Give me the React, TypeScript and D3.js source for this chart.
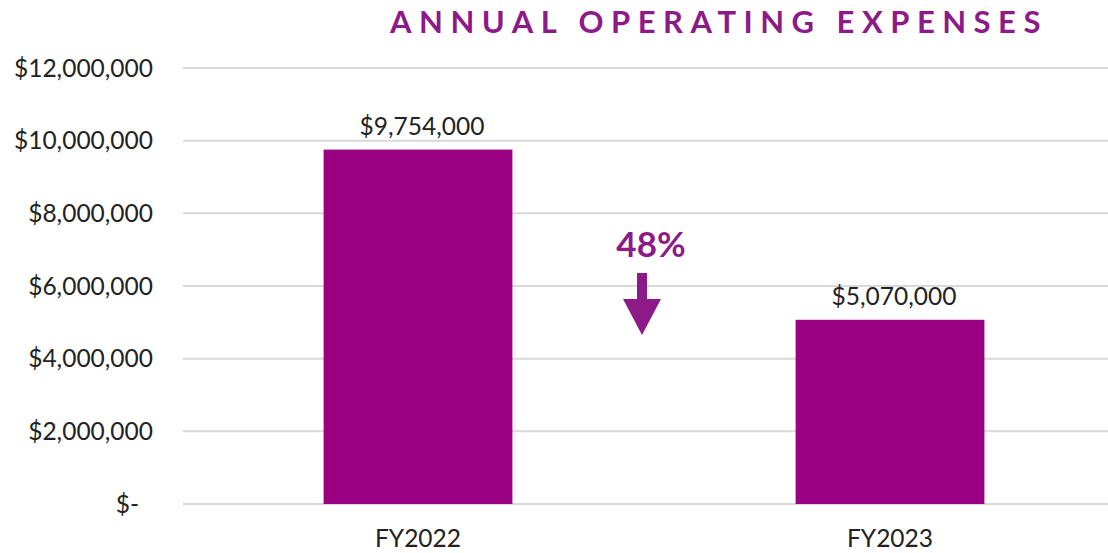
import React from "react";
import * as d3 from "d3";

const categories = ["FY2022", "FY2023"];
const values = [9754000, 5070000];
const yTicks = [0, 2000000, 4000000, 6000000, 8000000, 10000000, 12000000];
const title = "ANNUAL OPERATING EXPENSES";
const changeLabel = "48%";

const W = 1108;
const H = 553;
const FONT = "Lato, 'Open Sans', sans-serif";
const BAR = "#990082";
const PURPLE = "#8c1a88";

export default function App() {
  const x = d3.scaleBand<string>().domain(categories).range([182, 1126]).paddingInner(0.6).paddingOuter(0.3);
  const y = d3.scaleLinear().domain([0, 12000000]).range([504, 68]);
  const fmt = d3.format("$,.0f");
  const tickFmt = (v: number) => (v === 0 ? "$-" : fmt(v));
  const midX = ((x(categories[0])! + x.bandwidth()) + x(categories[1])!) / 2;
  const ax = midX - 12;
  const arrowTop = 273, headTop = 299, tip = 335;
  const arrow = `M${ax - 5},${arrowTop} L${ax + 5},${arrowTop} L${ax + 5},${headTop} L${ax + 19},${headTop} L${ax},${tip} L${ax - 19},${headTop} L${ax - 5},${headTop} Z`;
  return (
    <svg width={W} height={H} style={{ position: "absolute", left: 0, top: 0, background: "#fff" }}>
      <text x={719} y={33} textAnchor="middle" fill={PURPLE} fontFamily={FONT} fontWeight={700} fontSize={31} letterSpacing={7.5}>
        {title}
      </text>
      {yTicks.map((t) => (
        <g key={t}>
          <line x1={183} x2={1108} y1={y(t)} y2={y(t)} stroke="#d9d9d9" strokeWidth={2} />
          <text x={t === 0 ? 139 : 153} y={y(t)} dy="0.35em" textAnchor="end" fontFamily={FONT} fontSize={24.5} fill="#222">
            {tickFmt(t)}
          </text>
        </g>
      ))}
      {categories.map((c, i) => (
        <g key={c}>
          <rect x={x(c)!} y={y(values[i])} width={x.bandwidth()} height={y(0) - y(values[i])} fill={BAR} />
          <text x={x(c)! + x.bandwidth() / 2 + 4} y={y(values[i]) - 15} textAnchor="middle" fontFamily={FONT} fontSize={24.5} fill="#222">
            {fmt(values[i])}
          </text>
          <text x={x(c)! + x.bandwidth() / 2} y={547} textAnchor="middle" fontFamily={FONT} fontSize={24.5} fill="#222">
            {c}
          </text>
        </g>
      ))}
      <text x={651} y={257} textAnchor="middle" fill={PURPLE} fontFamily={FONT} fontWeight={700} fontSize={35}>
        {changeLabel}
      </text>
      <path d={arrow} fill={PURPLE} />
    </svg>
  );
}
